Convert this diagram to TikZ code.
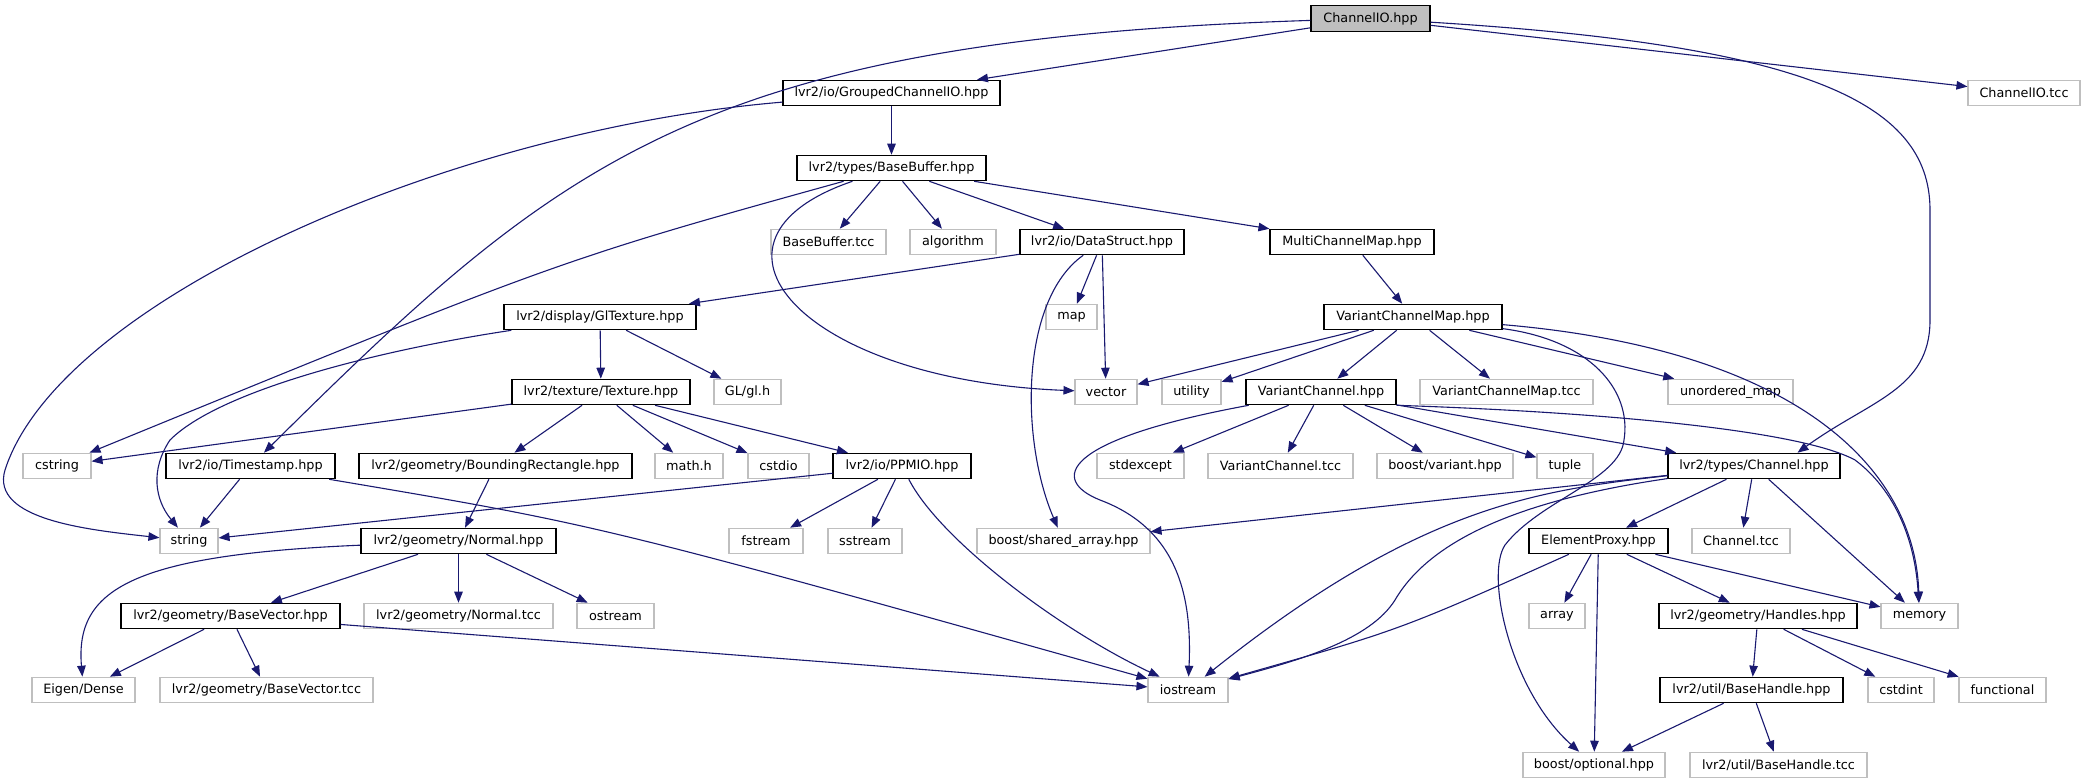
\documentclass[tikz,border=0pt]{standalone}
\usepackage{fontspec}
\setmainfont{DejaVu Sans}
\usepackage{tikz}
\usetikzlibrary{arrows.meta}
\usepackage{xcolor}
\definecolor{edgeblue}{HTML}{191970}
\definecolor{extgray}{HTML}{BFBFBF}

\begin{document}
\begin{tikzpicture}[x=1pt,y=-1pt,
	font=\fontsize{12.8}{15}\selectfont,
	box/.style={draw,fill=white,line width=1.1pt,minimum height=25.5,inner sep=2pt},
	doc/.style={box,draw=black},
	ext/.style={box,draw=extgray},
	dep/.style={draw=edgeblue,line width=1.1pt,-{Triangle[length=11pt,width=8.5pt]}}]
	\path[use as bounding box,fill=white] (0,0) rectangle (2085,784);
					\node[doc,fill=extgray,minimum width=119] (root) at (1370.5,18.5) {ChannelIO.hpp};
					\node[doc,minimum width=217] (gcio) at (891.5,93) {lvr2/io/GroupedChannelIO.hpp};
					\node[ext,minimum width=112] (iotcc) at (2024,93) {ChannelIO.tcc};
					\node[doc,minimum width=189] (bbuf) at (891.5,168) {lvr2/types/BaseBuffer.hpp};
					\node[ext,minimum width=115] (bbtcc) at (828.5,242) {BaseBuffer.tcc};
					\node[ext,minimum width=86] (algo) at (953,242) {algorithm};
					\node[doc,minimum width=164] (dstruct) at (1102,242) {lvr2/io/DataStruct.hpp};
					\node[doc,minimum width=164] (mcmap) at (1352,242) {MultiChannelMap.hpp};
					\node[doc,minimum width=192] (gltex) at (600,317) {lvr2/display/GlTexture.hpp};
					\node[ext,minimum width=51] (stlmap) at (1071.5,317) {map};
					\node[doc,minimum width=178] (vcmap) at (1413,317) {VariantChannelMap.hpp};
					\node[doc,minimum width=178] (texture) at (601,392) {lvr2/texture/Texture.hpp};
					\node[ext,minimum width=67] (glh) at (747.5,392) {GL/gl.h};
					\node[ext,minimum width=62] (vector) at (1106,392) {vector};
					\node[ext,minimum width=59] (utility) at (1191.5,392) {utility};
					\node[doc,minimum width=150] (vchan) at (1321,392) {VariantChannel.hpp};
					\node[ext,minimum width=173] (vcmtcc) at (1506.5,392) {VariantChannelMap.tcc};
					\node[ext,minimum width=125] (umap) at (1730.5,392) {unordered\_map};
					\node[ext,minimum width=68] (cstring) at (57,466) {cstring};
					\node[doc,minimum width=169] (tstamp) at (250.5,466) {lvr2/io/Timestamp.hpp};
					\node[doc,minimum width=273] (brect) at (495.5,466) {lvr2/geometry/BoundingRectangle.hpp};
					\node[ext,minimum width=68] (mathh) at (689,466) {math.h};
					\node[ext,minimum width=61] (cstdio) at (778.5,466) {cstdio};
					\node[doc,minimum width=138] (ppmio) at (902,466) {lvr2/io/PPMIO.hpp};
					\node[ext,minimum width=87] (stdexc) at (1140.5,466) {stdexcept};
					\node[ext,minimum width=145] (vctcc) at (1280.5,466) {VariantChannel.tcc};
					\node[ext,minimum width=136] (bvariant) at (1445,466) {boost/variant.hpp};
					\node[ext,minimum width=56] (tuple) at (1565,466) {tuple};
					\node[doc,minimum width=172] (channel) at (1754,466) {lvr2/types/Channel.hpp};
					\node[ext,minimum width=58] (string) at (189,541) {string};
					\node[doc,minimum width=195] (normal) at (458.5,541) {lvr2/geometry/Normal.hpp};
					\node[ext,minimum width=74] (fstream) at (766,541) {fstream};
					\node[ext,minimum width=74] (sstream) at (865,541) {sstream};
					\node[ext,minimum width=173] (sarray) at (1063.5,541) {boost/shared\_array.hpp};
					\node[doc,minimum width=139] (eproxy) at (1598.5,541) {ElementProxy.hpp};
					\node[ext,minimum width=98] (chtcc) at (1741,541) {Channel.tcc};
					\node[doc,minimum width=219] (bvec) at (230.5,616) {lvr2/geometry/BaseVector.hpp};
					\node[ext,minimum width=189] (ntcc) at (458.5,616) {lvr2/geometry/Normal.tcc};
					\node[ext,minimum width=77] (ostream) at (615.5,616) {ostream};
					\node[ext,minimum width=56] (array) at (1557,616) {array};
					\node[doc,minimum width=198] (handles) at (1758,616) {lvr2/geometry/Handles.hpp};
					\node[ext,minimum width=77] (memory) at (1919.5,616) {memory};
					\node[ext,minimum width=103] (eigen) at (83.5,690) {Eigen/Dense};
					\node[ext,minimum width=213] (bvtcc) at (266.5,690) {lvr2/geometry/BaseVector.tcc};
					\node[ext,minimum width=80] (iostream) at (1188,690) {iostream};
					\node[doc,minimum width=183] (bhandle) at (1751.5,690) {lvr2/util/BaseHandle.hpp};
					\node[ext,minimum width=66] (cstdint) at (1901,690) {cstdint};
					\node[ext,minimum width=87] (functional) at (2002.5,690) {functional};
					\node[ext,minimum width=142] (optional) at (1594,765) {boost/optional.hpp};
					\node[ext,minimum width=177] (bhtcc) at (1778.5,765) {lvr2/util/BaseHandle.tcc};
					\draw[dep] (root) -- (gcio);
					\draw[dep] (root) .. controls (700,40) and (560,160) .. (tstamp);
					\draw[dep] (root) -- (iotcc);
					\draw[dep] (root) .. controls (1800,45) and (1930,100) .. (1930,210) -- (1930,320) .. controls (1930,390) and (1870,400) .. (channel.17);
					\draw[dep] (gcio) -- (bbuf);
					\draw[dep] (gcio) .. controls (450,130) and (60,300) .. (5,470) .. controls (-10,520) and (90,530) .. (string);
					\draw[dep] (bbuf) .. controls (560,260) .. (cstring);
					\draw[dep] (bbuf) .. controls (680,240) and (800,380) .. (vector);
					\draw[dep] (bbuf) -- (bbtcc);
					\draw[dep] (bbuf) -- (algo);
					\draw[dep] (bbuf) -- (dstruct);
					\draw[dep] (bbuf) -- (mcmap);
					\draw[dep] (dstruct) -- (gltex);
					\draw[dep] (dstruct) -- (stlmap);
					\draw[dep] (dstruct) -- (vector);
					\draw[dep] (dstruct) .. controls (1020,300) and (1020,440) .. (sarray);
					\draw[dep] (mcmap) -- (vcmap);
					\draw[dep] (gltex) .. controls (380,350) and (220,390) .. (170,440) .. controls (150,470) and (155,500) .. (string);
					\draw[dep] (gltex) -- (texture);
					\draw[dep] (gltex) -- (glh);
					\draw[dep] (texture) -- (cstring);
					\draw[dep] (texture) -- (brect);
					\draw[dep] (texture) -- (mathh);
					\draw[dep] (texture) -- (cstdio);
					\draw[dep] (texture) -- (ppmio);
					\draw[dep] (vcmap) -- (vector);
					\draw[dep] (vcmap) -- (utility);
					\draw[dep] (vcmap) -- (vchan);
					\draw[dep] (vcmap) -- (vcmtcc);
					\draw[dep] (vcmap) -- (umap);
					\draw[dep] (vcmap) .. controls (1800,350) and (1915,470) .. (memory);
					\draw[dep] (vcmap) .. controls (1590,340) and (1632,390) .. (1624,440) .. controls (1620,480) and (1540,500) .. (1505,545) .. controls (1485,575) and (1510,690) .. (optional);
					\draw[dep] (vchan) .. controls (1060,440) and (1050,480) .. (1100,500) .. controls (1180,530) and (1192,600) .. (iostream);
					\draw[dep] (vchan) -- (stdexc);
					\draw[dep] (vchan) -- (vctcc);
					\draw[dep] (vchan) -- (bvariant);
					\draw[dep] (vchan) -- (tuple);
					\draw[dep] (vchan) -- (channel);
					\draw[dep] (vchan.south east) .. controls (1600,412) and (1800,430) .. (1855,460) .. controls (1895,490) and (1915,540) .. (memory);
					\draw[dep] (tstamp) -- (string);
					\draw[dep] (tstamp) .. controls (600,525) .. (iostream);
					\draw[dep] (brect) -- (normal);
					\draw[dep] (ppmio) -- (string);
					\draw[dep] (ppmio) -- (fstream);
					\draw[dep] (ppmio) -- (sstream);
					\draw[dep] (ppmio) .. controls (940,540) and (1060,630) .. (iostream);
					\draw[dep] (channel) -- (eproxy);
					\draw[dep] (channel) -- (chtcc);
					\draw[dep] (channel) -- (memory);
					\draw[dep] (channel) -- (sarray);
					\draw[dep] (channel) .. controls (1540,490) and (1420,505) .. (iostream);
					\draw[dep] (channel) .. controls (1520,500) and (1430,540) .. (1395,600) .. controls (1370,640) and (1300,660) .. (iostream);
					\draw[dep] (normal) .. controls (130,555) and (75,590) .. (eigen);
					\draw[dep] (normal) -- (bvec);
					\draw[dep] (normal) -- (ntcc);
					\draw[dep] (normal) -- (ostream);
					\draw[dep] (eproxy) -- (array);
					\draw[dep] (eproxy) -- (optional);
					\draw[dep] (eproxy) -- (handles);
					\draw[dep] (eproxy) -- (memory);
					\draw[dep] (eproxy) .. controls (1400,630) .. (iostream);
					\draw[dep] (bvec) -- (eigen);
					\draw[dep] (bvec) -- (bvtcc);
					\draw[dep] (bvec) -- (iostream);
					\draw[dep] (handles) -- (bhandle);
					\draw[dep] (handles) -- (cstdint);
					\draw[dep] (handles) -- (functional);
					\draw[dep] (bhandle) -- (optional);
					\draw[dep] (bhandle) -- (bhtcc);
				\end{tikzpicture}
\end{document}
